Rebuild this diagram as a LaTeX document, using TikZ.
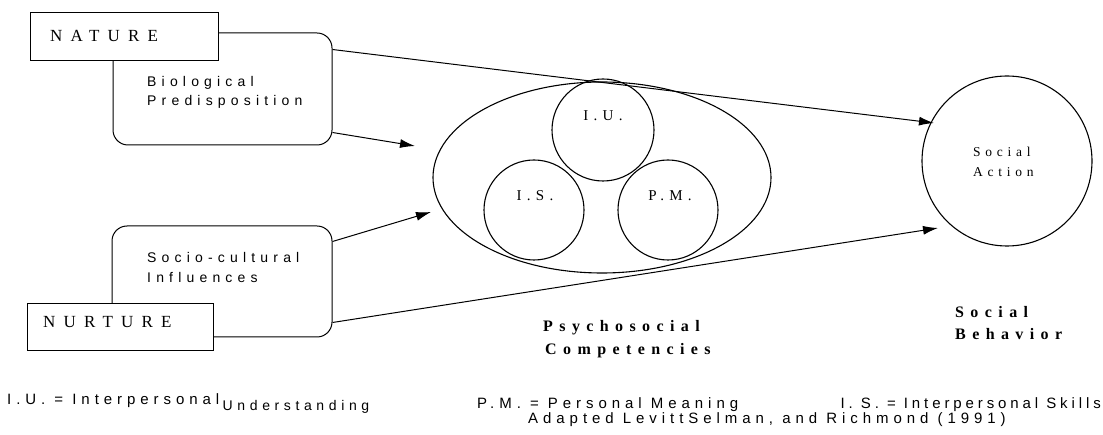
\documentclass[tikz,border=0pt]{standalone}
\usepackage{fontspec}
\setmainfont{Liberation Serif}
\newfontfamily\natfont[LetterSpace=48]{Liberation Serif}
\newfontfamily\cirfont[LetterSpace=35]{Liberation Serif}
\newfontfamily\boldsp[LetterSpace=40]{Liberation Serif}
\newfontfamily\boxsans[LetterSpace=37]{Liberation Sans}
\newfontfamily\notesans[LetterSpace=26]{Liberation Sans}
\newfontfamily\notesansB[LetterSpace=33]{Liberation Sans}
\usetikzlibrary{arrows.meta}
\tikzset{
  rbox/.style={draw, line width=1pt, rounded corners=15pt, inner sep=0pt},
  sqbox/.style={draw, line width=1pt, fill=white, inner sep=0pt},
  natlbl/.style={inner sep=0pt, anchor=base west, font=\natfont\fontsize{17pt}{17pt}\selectfont},
  sanslbl/.style={inner sep=0pt, anchor=base west, font=\boxsans\fontsize{14pt}{14pt}\selectfont},
  cirlbl/.style={inner sep=0pt, anchor=base, font=\cirfont\fontsize{15pt}{15pt}\selectfont},
  actlbl/.style={inner sep=0pt, anchor=base west, font=\cirfont\fontsize{13.5pt}{13.5pt}\selectfont},
  boldlbl/.style={inner sep=0pt, anchor=base west, font=\boldsp\bfseries\fontsize{16pt}{16pt}\selectfont},
  notelbl/.style={inner sep=0pt, font=\notesans\fontsize{15pt}{15pt}\selectfont},
  notelblB/.style={inner sep=0pt, font=\notesansB\fontsize{15pt}{15pt}\selectfont},
  circ/.style={draw, circle, line width=1.1pt, inner sep=0pt},
  conn/.style={line width=1pt, -{Latex[length=15pt,width=9pt]}}
}
\begin{document}
\begin{tikzpicture}[x=1pt,y=-1pt]
\useasboundingbox[fill=white] (0,0) rectangle (1103,435);

% left boxes
\node[rbox, minimum width=219pt, minimum height=112pt] (bio) at (222.5,89) {};
\node[sqbox, minimum width=188pt, minimum height=48pt] (nature) at (124,37) {};
\node[natlbl] (naturetxt) at (50,41.7) {NATURE};
\node[sanslbl] (bio1) at (147,87) {Biological};
\node[sanslbl] (bio2) at (147,106) {Predisposition};

\node[rbox, minimum width=220pt, minimum height=111pt] (soc) at (222,281.5) {};
\node[sqbox, minimum width=186pt, minimum height=47pt] (nurture) at (120,327.5) {};
\node[natlbl] (nurturetxt) at (43,328) {NURTURE};
\node[sanslbl] (soc1) at (147,263) {Socio-cultural};
\node[sanslbl] (soc2) at (147,283) {Influences};

% psychosocial ellipse
\draw[line width=1.1pt] (602,177.5) ellipse [x radius=169, y radius=95.5];
\node[circ, minimum size=102pt] (iu) at (603,130) {};
\node[circ, minimum size=100pt] (is) at (534,210) {};
\node[circ, minimum size=100pt] (pm) at (668,210) {};
\node[cirlbl] (iutxt) at (603,121) {I.U.};
\node[cirlbl] (istxt) at (535,201) {I.S.};
\node[cirlbl] (pmtxt) at (670,201) {P.M.};

% social action
\node[circ, minimum size=170pt] (act) at (1007,161) {};
\node[actlbl] (act1) at (973,157) {Social};
\node[actlbl] (act2) at (973,177) {Action};

% arrow tips
\coordinate (t1) at (934,123);
\coordinate (t2) at (415,146);
\coordinate (t3) at (431,212);
\coordinate (t4) at (938,228);

\draw[conn] ([yshift=-17pt]bio.north east) -- (t1);
\draw[conn] ([yshift=13pt]bio.south east) -- (t2);
\draw[conn] ([yshift=-16pt]soc.north east) -- (t3);
\draw[conn] ([yshift=15pt]soc.south east) -- (t4);

% bold captions
\node[boldlbl] (ps1) at (543,332) {Psychosocial};
\node[boldlbl] (ps2) at (545,355) {Competencies};
\node[boldlbl] (sb1) at (955,318) {Social};
\node[boldlbl] (sb2) at (955,340) {Behavior};

% notes
\node[notelblB, anchor=base west] (n1) at (7,405) {I.U. = Interpersonal};
\node[notelblB, anchor=base west, font=\notesansB\fontsize{14pt}{14pt}\selectfont] (n1b) at ([xshift=3pt,yshift=-5pt]n1.base east) {Understanding};
\node[notelblB, anchor=base west] (n2) at (477,409) {P.M. = Personal Meaning};
\node[notelbl, anchor=base east] (n3) at (1101,409) {I. S. = Interpersonal Skills};
\node[notelblB, anchor=base west] (n4) at (528,424) {Adapted LevittSelman, and Richmond (1991)};
\end{tikzpicture}
\end{document}
